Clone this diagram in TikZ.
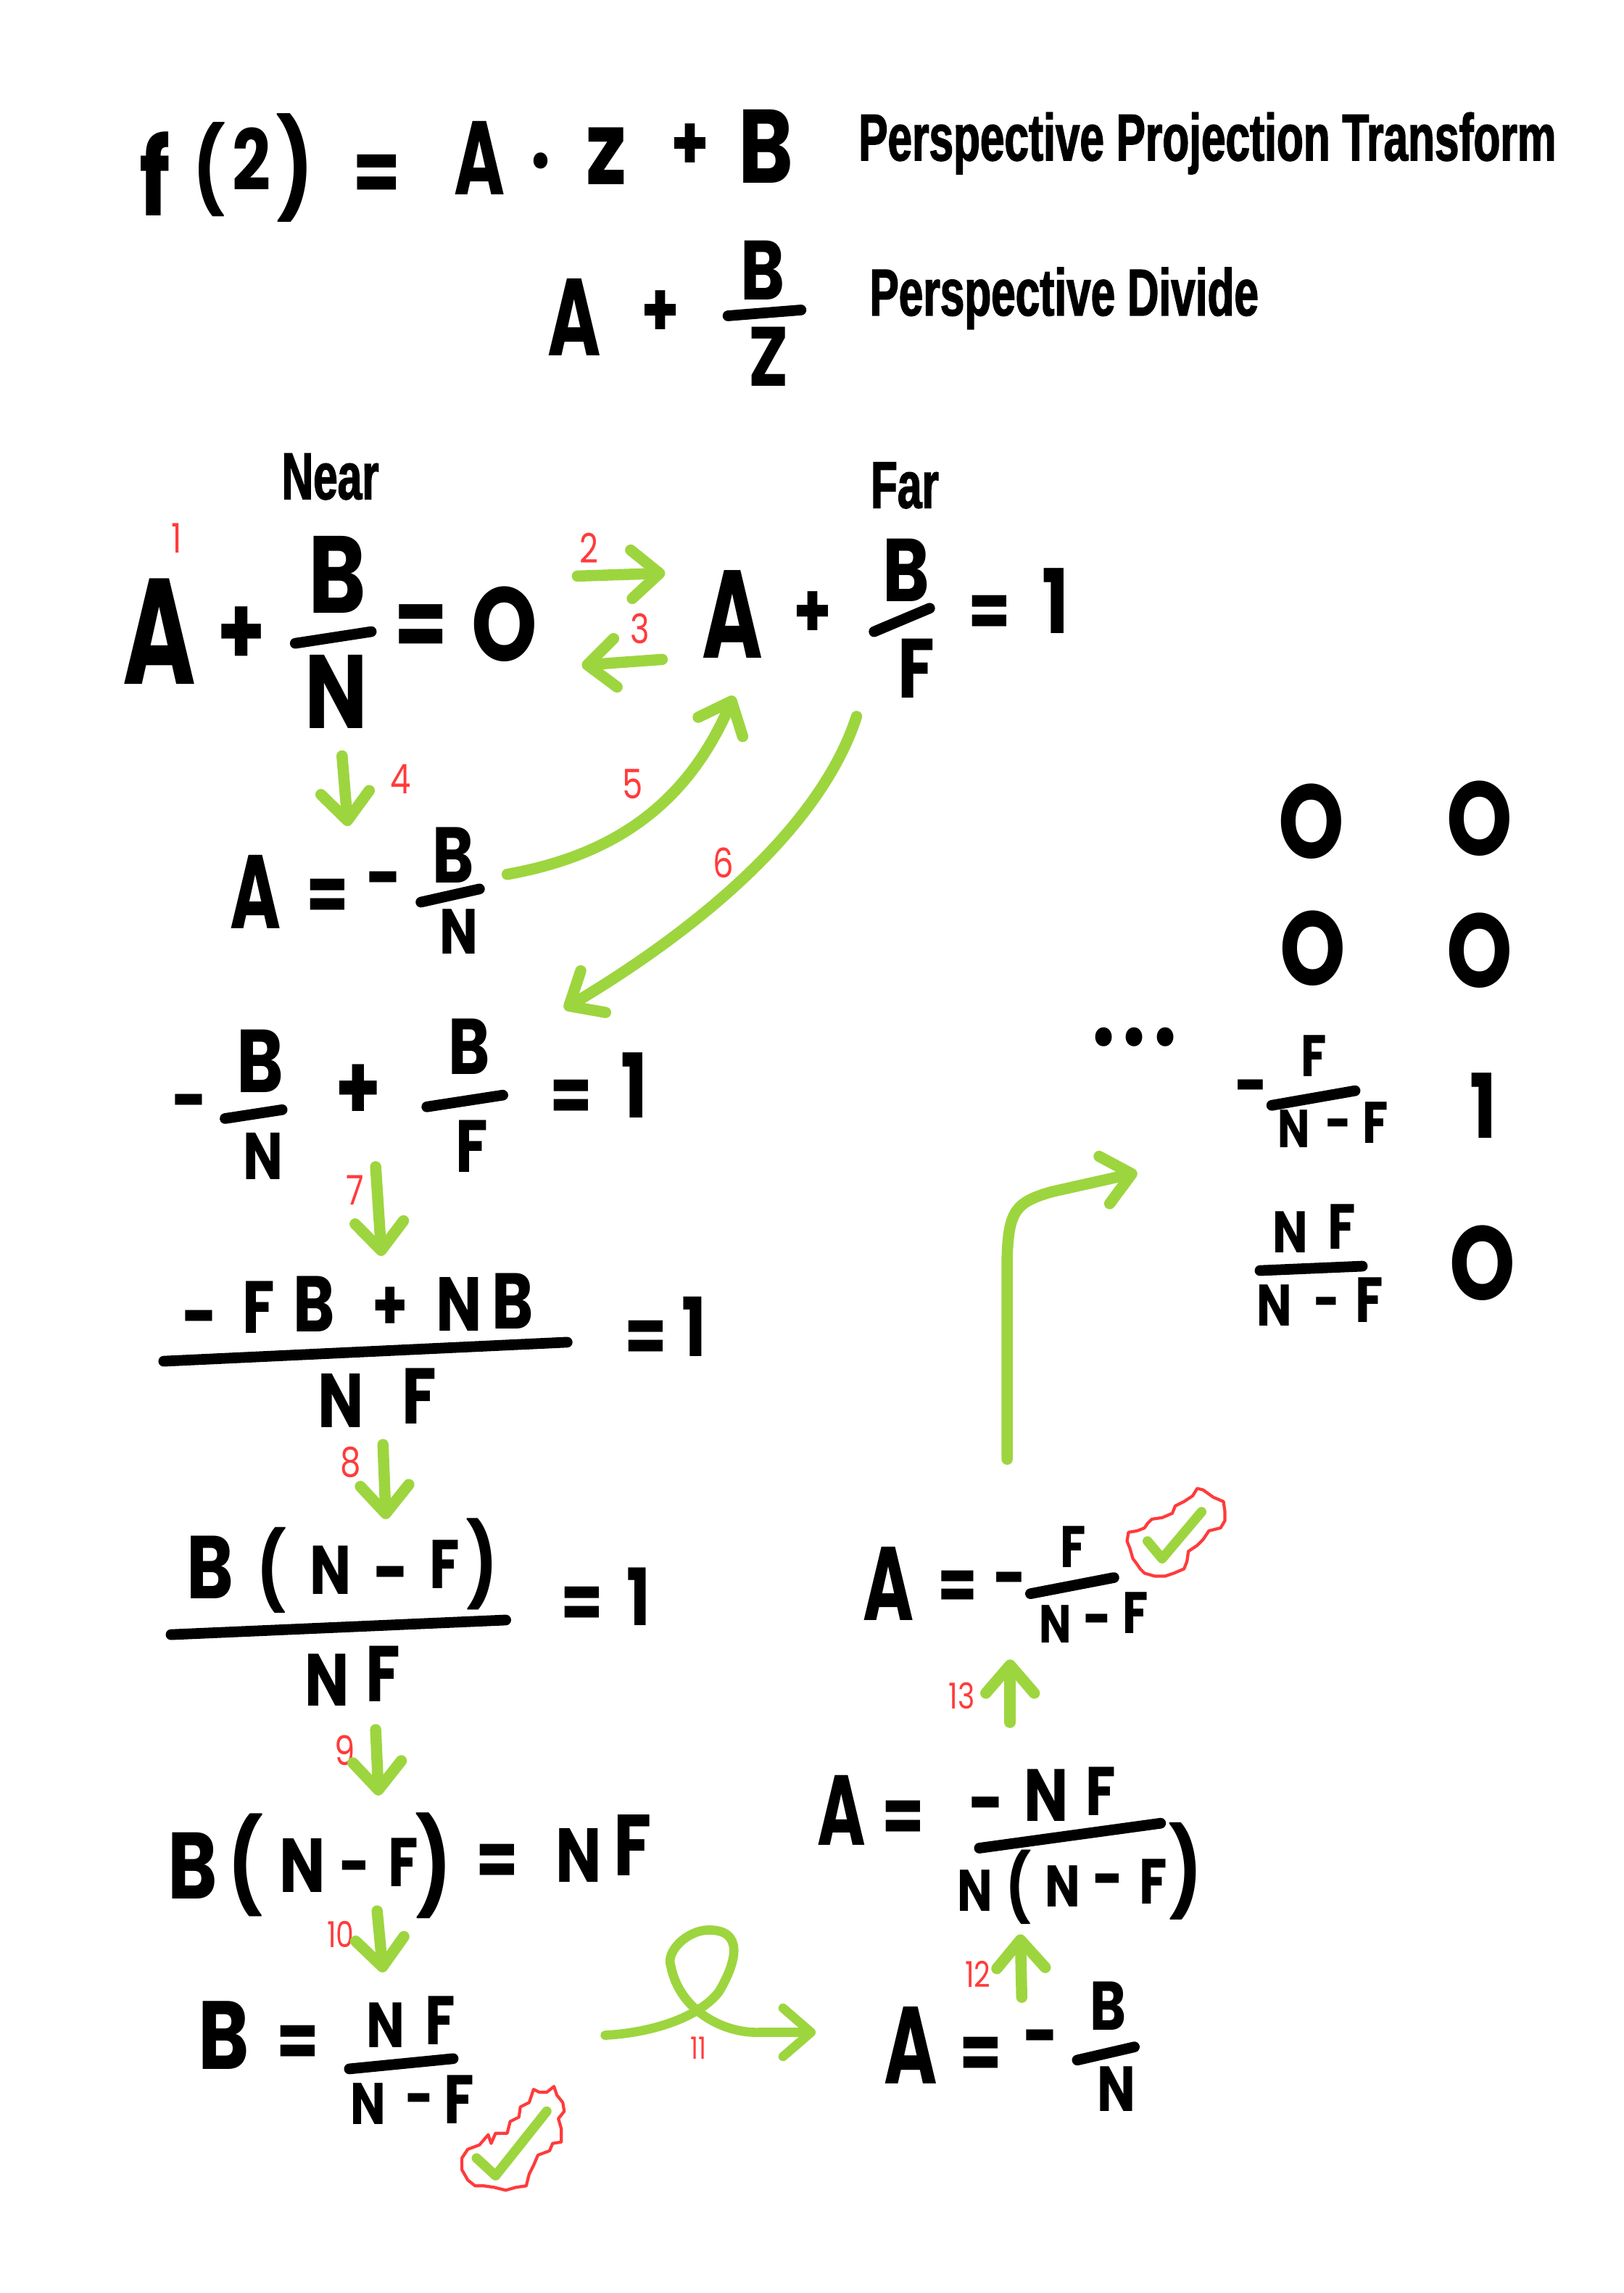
\documentclass[tikz,border=0pt]{standalone}
\usepackage{fontspec}
\usetikzlibrary{arrows.meta,calc}
\newfontfamily\handfont[FakeStretch=.8]{Poppins}
\newfontfamily\slimfont[FakeStretch=.66]{Poppins}
\newfontfamily\headfont[FakeStretch=.66,FakeBold=1.5]{Liberation Sans Bold}
\newfontfamily\numfont[FakeStretch=.8]{Poppins}
\definecolor{markgreen}{HTML}{9DD53F}
\definecolor{markred}{HTML}{FF3B3B}
\tikzset{
  hand/.style={font=\handfont\bfseries\fontsize{#1}{#1}\selectfont, inner sep=0pt, text height=#1*0.7pt, text depth=0pt},
  slim/.style={font=\slimfont\bfseries\fontsize{#1}{#1}\selectfont, inner sep=0pt, text height=#1*0.7pt, text depth=0pt},
  heading/.style={font=\headfont\fontsize{#1}{#1}\selectfont, inner sep=0pt},
  num/.style={font=\numfont\fontsize{#1}{#1}\selectfont, text=markred, inner sep=0pt},
  num/.default=16,
  fracbar/.style={line width=4.2pt, line cap=round},
  flow/.style={markgreen, line width=4.4pt, line cap=round, line join=round,
    -{Straight Barb[length=11pt,width=19pt,round]}},
  tick/.style={markgreen, line width=3.8pt, line cap=round, line join=round},
  blob/.style={markred, line width=1.2pt, line join=round},
}
\begin{document}
\begin{tikzpicture}[x=0.02016cm, y=-0.02016cm]
    \useasboundingbox (0,0) rectangle (1111,1568.3);
    \fill[white] (0,0) rectangle (1111,1568.3);
    % definition
    \node[hand=42] (defF) at (106,122) {f};
    \node[hand=33] (defL) at (143,116) {(};
    \node[hand=33] (defZ) at (172,110) {2};
    \node[hand=38] (defR) at (202,115) {)};
    \node[hand=34] (defEq) at (258,118) {=};
    \node[slim=41] (defA) at (328,108) {A};
    \node[hand=34] (defDot) at (370,108) {·};
    \node[hand=40] (defz) at (415,102) {z};
    \node[hand=30] (defPlus) at (472,98) {+};
    \node[hand=41] (defB) at (524,100) {B};
    \node[heading=26] (headProj) at (826,98) {Perspective Projection Transform};
    \node[slim=43] (divA) at (393,217) {A};
    \node[hand=30] (divPlus) at (452,212) {+};
    \node[hand=33] (divB) at (522,185) {B};
    \draw[fracbar] (498,216) -- (548,212);
    \node[hand=33] (divZ) at (526,244) {Z};
    \node[heading=26] (headDiv) at (728,204) {Perspective Divide};
    \node[heading=26] (headNear) at (226,326) {Near};
    \node[heading=26] (headFar) at (619,332) {Far};
    % near and far
    \node[num] (n1) at (121,368) {1};
    \node[slim=59] (nearA) at (109,432) {A};
    \node[hand=38] (nearPlus) at (165,432) {+};
    \node[hand=43] (nearB) at (231,393) {B};
    \draw[fracbar] (202,440) -- (254,432);
    \node[hand=41] (nearN) at (230,473) {N};
    \node[hand=38] (nearEq) at (288,427) {=};
    \node[hand=41] (nearO) at (345,427) {O};
    \node[slim=49] (farA) at (501,420) {A};
    \node[hand=30] (farPlus) at (556,418) {+};
    \node[hand=35] (farB) at (620,390) {B};
    \draw[fracbar] (598,432) -- (636,416);
    \node[hand=33] (farF) at (627,457) {F};
    \node[hand=30] (farEq) at (677,418) {=};
    \node[hand=35] (farOne) at (722,412) {1};
    \node[num] (n2) at (403,375) {2};
    \node[num] (n3) at (438,430) {3};
    % solve for A
    \node[slim=41] (aA) at (175,610) {A};
    \node[hand=30] (aEq) at (224,612) {=};
    \node[hand=30] (aMinus) at (263,600) {-};
    \node[hand=31] (aB) at (310,585) {B};
    \draw[fracbar] (288,617) -- (328,608);
    \node[hand=25] (aN) at (314,637) {N};
    \node[num] (n4) at (274,533) {4};
    \node[num] (n5) at (433,536) {5};
    \node[num] (n6) at (495,590) {6};
    % substitution
    \node[hand=30] (sumMinus) at (130,752) {-};
    \node[hand=35] (sumA) at (178,726) {B};
    \draw[fracbar] (154,765) -- (193,759);
    \node[hand=26] (sumN) at (180,791) {N};
    \node[hand=36] (sumPlus) at (245,744) {+};
    \node[hand=31] (sumB) at (321,716) {B};
    \draw[fracbar] (292,757) -- (344,749);
    \node[hand=29] (sumF) at (323,784) {F};
    \node[hand=30] (sumEq) at (391,749) {=};
    \node[hand=35] (sumOne) at (434,743) {1};
    \node[num] (n7) at (243,814) {7};
    % common denominator
    \node[hand=30] (topMinus) at (137,900) {-};
    \node[hand=29] (topF) at (177,894) {F};
    \node[hand=31] (topB) at (215,892) {B};
    \node[hand=28] (topPlus) at (267,893) {+};
    \node[hand=30] (topN) at (314,892) {N};
    \node[hand=31] (topBB) at (351,890) {B};
    \draw[fracbar] (112,931) -- (388,918);
    \node[hand=30] (botN) at (233,958) {N};
    \node[hand=31] (botF) at (287,955) {F};
    \node[hand=30] (botEq) at (442,914) {=};
    \node[hand=32] (botOne) at (475,908) {1};
    \node[num] (n8) at (240,1000) {8};
    % factored
    \node[hand=35] (facB) at (144,1072) {B};
    \node[hand=30] (facL) at (186,1074) {(};
    \node[hand=27] (facN) at (226,1074) {N};
    \node[hand=30] (facMinus) at (268,1075) {-};
    \node[hand=27] (facF) at (304,1070) {F};
    \node[hand=32] (facR) at (330,1070) {)};
    \draw[fracbar] (117,1118) -- (346,1108);
    \node[hand=29] (facNN) at (224,1149) {N};
    \node[hand=31] (facFF) at (262,1145) {F};
    \node[hand=30] (facEq) at (398,1096) {=};
    \node[hand=31] (facOne) at (437,1093) {1};
    \node[num] (n9) at (236,1197) {9};
    % cross multiplied
    \node[hand=37] (lineB) at (132,1276) {B};
    \node[hand=36] (lineL) at (168,1276) {(};
    \node[hand=30] (lineN) at (207,1276) {N};
    \node[hand=26] (lineMinus) at (243,1276) {-};
    \node[hand=27] (lineF) at (276,1274) {F};
    \node[hand=37] (lineR) at (297,1276) {)};
    \node[hand=30] (lineEq) at (340,1272) {=};
    \node[hand=30] (lineNN) at (396,1269) {N};
    \node[hand=34] (lineFF) at (433,1262) {F};
    \node[num=14] (n10) at (233,1323) {10};
    % result for B
    \node[hand=38] (bB) at (153,1392) {B};
    \node[hand=30] (bEq) at (204,1396) {=};
    \node[hand=25] (bN) at (264,1385) {N};
    \node[hand=27] (bF) at (301,1382) {F};
    \draw[fracbar] (239,1415) -- (310,1408);
    \node[hand=23] (bNN) at (252,1439) {N};
    \node[hand=24] (bMinus) at (287,1435) {-};
    \node[hand=27] (bFF) at (314,1436) {F};
    \draw[blob] plot coordinates {(365,1429) (369,1431) (374,1431) (379,1427) (381,1433) (385,1438) (386,1444) (382,1449) (384,1456) (384,1465) (378,1466) (376,1471) (368,1474) (365,1481) (362,1487) (360,1495) (353,1496) (346,1498) (338,1496) (331,1495) (325,1495) (320,1491) (316,1484) (316,1476) (320,1470) (328,1467) (334,1460) (336,1466) (339,1459) (347,1459) (349,1451) (355,1448) (356,1441) (362,1438)} -- cycle;
    \draw[tick] (326,1476) -- (339,1488) -- (374,1444);
    \node[num=12] (n11) at (478,1401) {11};
    % back to A
    \node[slim=43] (lowA) at (623,1399) {A};
    \node[hand=30] (lowEq) at (671,1404) {=};
    \node[hand=30] (lowMinus) at (712,1392) {-};
    \node[hand=27] (lowB) at (758,1372) {B};
    \draw[fracbar] (737,1409) -- (776,1400);
    \node[hand=25] (lowN) at (764,1429) {N};
    \node[num=14] (n12) at (669,1350) {12};
    \node[slim=39] (midA) at (576,1238) {A};
    \node[hand=30] (midEq) at (618,1242) {=};
    \node[hand=30] (midMinus) at (675,1233) {-};
    \node[hand=29] (midN) at (716,1228) {N};
    \node[hand=27] (midF) at (753,1225) {F};
    \draw[fracbar] (670,1264) -- (794,1247);
    \node[hand=23] (midM) at (667,1293) {N};
    \node[hand=26] (midL) at (697,1291) {(};
    \node[hand=23] (midNN) at (727,1290) {N};
    \node[hand=26] (midMinusB) at (758,1285) {-};
    \node[hand=25] (midFF) at (789,1287) {F};
    \node[hand=34] (midR) at (811,1280) {)};
    \node[num=14] (n13) at (658,1160) {13};
    \node[slim=41] (endA) at (608,1083) {A};
    \node[hand=28] (endEq) at (655,1084) {=};
    \node[hand=28] (endMinus) at (691,1079) {-};
    \node[hand=23] (endF) at (734,1058) {F};
    \draw[fracbar] (705,1090) -- (762,1079);
    \node[hand=21] (endN) at (722,1111) {N};
    \node[hand=24] (endMinusB) at (751,1107) {-};
    \node[hand=23] (endFF) at (777,1103) {F};
    \draw[blob] plot coordinates {(772,1048) (778,1047) (783,1045) (785,1042) (788,1039) (795,1038) (802,1035) (804,1030) (810,1027) (816,1023) (819,1018) (823,1019) (830,1024) (837,1027) (838,1034) (838,1040) (835,1045) (827,1047) (823,1053) (819,1057) (813,1061) (812,1068) (810,1073) (803,1076) (797,1078) (790,1078) (783,1076) (780,1073) (778,1070) (775,1066) (773,1059) (771,1054)} -- cycle;
    \draw[tick] (785,1054) -- (795,1066) -- (822,1034);
    % matrix
    \foreach \i/\x in {1/755, 2/776, 3/797}
        \node[hand=40] (dot\i) at (\x,707) {·};
    \node[hand=41] (mat11) at (897,562) {O};
    \node[hand=41] (mat12) at (1012,560) {O};
    \node[hand=41] (mat21) at (898,649) {O};
    \node[hand=41] (mat22) at (1012,650) {O};
    \node[hand=28] (matMinus) at (856,742) {-};
    \node[hand=23] (matF) at (899,722) {F};
    \draw[fracbar] (870,756) -- (927,746);
    \node[hand=21] (matN) at (885,772) {N};
    \node[hand=22] (matMinusB) at (916,768) {-};
    \node[hand=23] (matFF) at (941,768) {F};
    \node[hand=35] (matOne) at (1015,757) {1};
    \node[hand=23] (mat2N) at (883,843) {N};
    \node[hand=25] (mat2F) at (918,839) {F};
    \draw[fracbar] (862,869) -- (932,866);
    \node[hand=23] (mat2NN) at (872,893) {N};
    \node[hand=22] (mat2Minus) at (908,890) {-};
    \node[hand=25] (mat2FF) at (937,889) {F};
    \node[hand=41] (matO) at (1014,864) {O};
    % steps
    \draw[flow] ($(nearO)+(50,-33)$) -- ($(farA)+(-46,-28)$);
    \draw[flow] ($(farA)+(-48,31)$) -- ($(nearO)+(53,28)$);
    \draw[flow] ($(nearN)+(4,44)$) -- ($(aA)+(63,-45)$);
    \draw[flow] ($(aB)+(37,13)$) .. controls (420,585) and (470,550) .. ($(farA)+(1,56)$);
    \draw[flow] ($(farF)+(-41,33)$) .. controls (560,570) and (470,640) .. ($(sumB)+(65,-26)$);
    \draw[flow] ($(sumPlus)+(12,54)$) -- ($(topB)+(46,-33)$);
    \draw[flow] ($(botN)+(29,30)$) -- ($(facN)+(38,-35)$);
    \draw[flow] ($(facNN)+(33,34)$) -- ($(lineN)+(52,-48)$);
    \draw[flow] ($(lineF)+(-18,33)$) -- ($(bN)+(-2,-36)$);
    \draw[flow, line width=3.6pt] ($(bF)+(113,10)$) .. controls (450,1390) and (480,1378) .. (492,1362)
        .. controls (505,1340) and (508,1320) .. (485,1320) .. controls (470,1320) and (455,1335) .. (459,1345)
        .. controls (465,1375) and (495,1391) .. (520,1390) -- ($(lowA)+(-65,-9)$);
    \draw[flow] ($(lowB)+(-59,-6)$) -- ($(midNN)+(-29,33)$);
    \draw[flow] ($(midN)+(-25,-50)$) -- ($(endN)+(-31,24)$);
    \draw[flow] ($(endA)+(81,-85)$) -- (689,860) .. controls (690,828) and (695,822) .. (720,815) -- ($(dot2)+(2,95)$);
\end{tikzpicture}
\end{document}
